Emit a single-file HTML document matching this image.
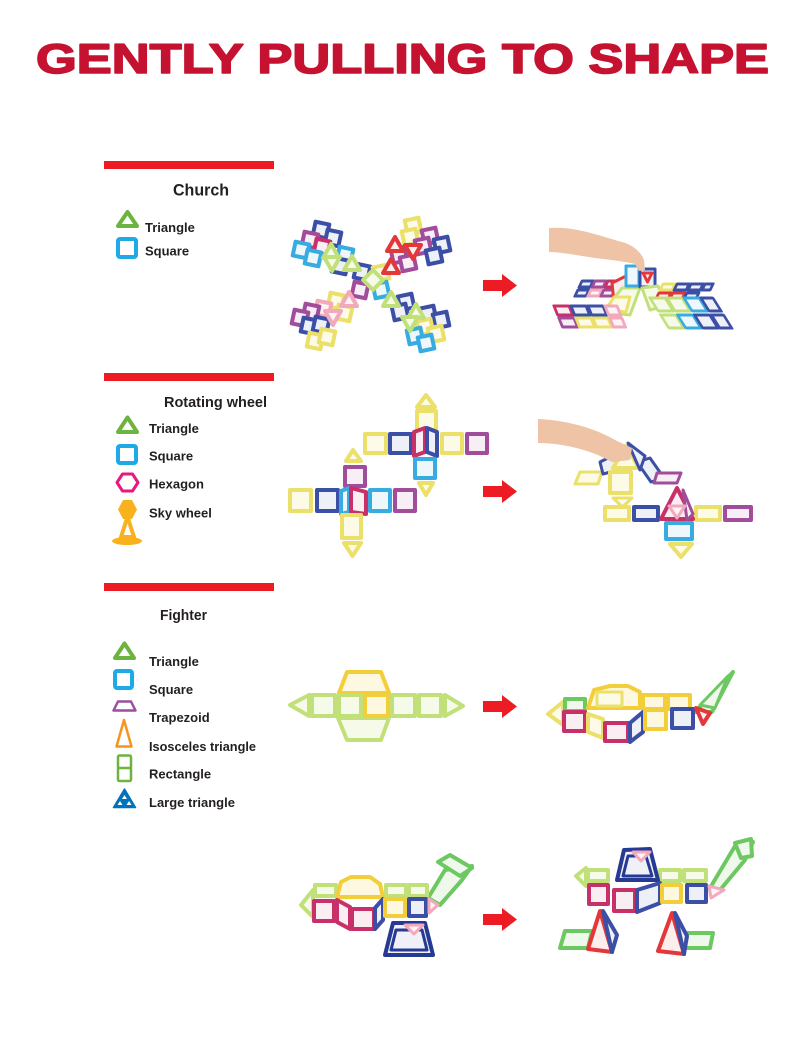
<!DOCTYPE html>
<html><head><meta charset="utf-8"><style>
html,body{margin:0;padding:0;background:#fff;}
svg{display:block;}
.t{stroke-width:4;stroke-linejoin:round}
.w{stroke-width:4;stroke-linejoin:round}
.s{stroke-width:3;stroke-linejoin:round}
.Y{stroke:#ebe06a;fill:#fdfbe8}
.O{stroke:#f2cf3a;fill:#fef8e0}
.B{stroke:#3c4fa6;fill:#eef0f8}
.D{stroke:#263a94;fill:#f0f1f8}
.P{stroke:#a24c9c;fill:#f7eef6}
.M{stroke:#c8306a;fill:#faeef2}
.L{stroke:#38ace0;fill:#eef8fc}
.G{stroke:#c2e07a;fill:#f6fbe9}
.N{stroke:#6dc862;fill:#eef9ec}
.R{stroke:#e2383a;fill:#fdeeee}
.K{stroke:#f2a9bb;fill:#fef3f5}
text{font-family:"Liberation Sans",sans-serif;font-weight:bold;fill:#231f20}
</style></head><body>
<svg width="800" height="1064" viewBox="0 0 800 1064" xmlns="http://www.w3.org/2000/svg">
<rect width="800" height="1064" fill="#fff"/>
<!-- Title -->
<text x="36" y="73" font-size="42" textLength="733" lengthAdjust="spacingAndGlyphs" style="fill:#c41230;stroke:#c41230;stroke-width:1.6;stroke-linejoin:round">GENTLY PULLING TO SHAPE</text>

<!-- Red bars -->
<rect x="104" y="161" width="170" height="8" fill="#ed1c24"/>
<rect x="104" y="373" width="170" height="8" fill="#ed1c24"/>
<rect x="104" y="583" width="170" height="8" fill="#ed1c24"/>

<!-- Section 1 legend -->
<text x="173" y="195.5" font-size="16.5" textLength="56" lengthAdjust="spacingAndGlyphs">Church</text>
<polygon points="127.5,212 118,226 137,226" fill="#fff" stroke="#6db33f" stroke-width="4" stroke-linejoin="round"/>
<rect x="118" y="239" width="18" height="18" rx="2" fill="#fff" stroke="#1eaae7" stroke-width="4"/>
<text x="145" y="232" font-size="13">Triangle</text>
<text x="145" y="255.5" font-size="13">Square</text>

<!-- Section 2 legend -->
<text x="164" y="407" font-size="14.5" textLength="103" lengthAdjust="spacingAndGlyphs">Rotating wheel</text>
<polygon points="127.5,417.5 118,432 137,432" fill="#fff" stroke="#6db33f" stroke-width="4" stroke-linejoin="round"/>
<rect x="118" y="446" width="18" height="17" rx="2" fill="#fff" stroke="#1eaae7" stroke-width="4"/>
<polygon points="122.5,474 132.5,474 138,482.5 132.5,491 122.5,491 117,482.5" fill="#fff" stroke="#e6197f" stroke-width="3" stroke-linejoin="round"/>
<polygon points="123,500 132,500 137,509.5 132,519 123,519 118,509.5" fill="#f9b21b"/>
<polygon points="127.5,517 121,537 134,537" fill="#fff" stroke="#f9b21b" stroke-width="4" stroke-linejoin="round"/>
<ellipse cx="127" cy="541" rx="15" ry="4" fill="#f9b21b"/>
<text x="149" y="433" font-size="13">Triangle</text>
<text x="149" y="460.5" font-size="13">Square</text>
<text x="149" y="488.5" font-size="13">Hexagon</text>
<text x="149" y="517.5" font-size="13">Sky wheel</text>

<!-- Section 3 legend -->
<text x="160" y="620" font-size="15" textLength="47" lengthAdjust="spacingAndGlyphs">Fighter</text>
<polygon points="124.5,643.5 115,658 134,658" fill="#fff" stroke="#6db33f" stroke-width="4" stroke-linejoin="round"/>
<rect x="115" y="671" width="17" height="17" rx="2" fill="#fff" stroke="#1eaae7" stroke-width="4"/>
<polygon points="118,701.5 131,701.5 135.5,710.5 113.5,710.5" fill="#fff" stroke="#9b4f9e" stroke-width="2.5" stroke-linejoin="round"/>
<polygon points="124,720 116.5,746.5 131.5,746.5" fill="#fff" stroke="#f7941d" stroke-width="2.5" stroke-linejoin="round"/>
<rect x="118" y="755.5" width="13" height="25.5" rx="1.5" fill="#fff" stroke="#6db33f" stroke-width="2.5"/>
<line x1="118" y1="768" x2="131" y2="768" stroke="#6db33f" stroke-width="2.5"/>
<polygon points="124.5,789 113.5,807.5 135.5,807.5" fill="#0072bc" stroke="#0072bc" stroke-width="1.5" stroke-linejoin="round"/>
<polygon points="124.5,795 122,799 127,799" fill="#fff"/>
<polygon points="120,801 117.5,805 122.5,805" fill="#fff"/>
<polygon points="129,801 126.5,805 131.5,805" fill="#fff"/>
<text x="149" y="666" font-size="13">Triangle</text>
<text x="149" y="694" font-size="13">Square</text>
<text x="149" y="722" font-size="13">Trapezoid</text>
<text x="149" y="751" font-size="13" textLength="107" lengthAdjust="spacingAndGlyphs">Isosceles triangle</text>
<text x="149" y="778.5" font-size="13">Rectangle</text>
<text x="149" y="807" font-size="13">Large triangle</text>

<!-- Arrows -->
<g fill="#ed1c24">
<polygon points="483,280 502,280 502,274 517,285.5 502,297 502,291 483,291"/>
<polygon points="483,486 502,486 502,480 517,491.5 502,503 502,497 483,497"/>
<polygon points="483,701 502,701 502,695 517,706.5 502,718 502,712 483,712"/>
<polygon points="483,914 502,914 502,908 517,919.5 502,931 502,925 483,925"/>
</g>

<!-- Church left (windmill) -->
<g>
<!-- top-left arm -->
<rect class="t B" x="314" y="223" width="14" height="14" transform="rotate(12 321 230)"/>
<rect class="t B" x="326" y="231" width="14" height="14" transform="rotate(12 333 238)"/>
<rect class="t P" x="303" y="233" width="14" height="14" transform="rotate(12 310 240)"/>
<rect class="t M" x="315" y="240" width="14" height="14" transform="rotate(12 322 247)"/>
<rect class="t L" x="294" y="243" width="14" height="14" transform="rotate(12 301 250)"/>
<rect class="t L" x="306" y="251" width="14" height="14" transform="rotate(12 313 258)"/>
<rect class="t L" x="338" y="248" width="14" height="14" transform="rotate(12 345 255)"/>
<rect class="t B" x="333" y="259" width="14" height="14" transform="rotate(12 340 266)"/>
<rect class="t B" x="355" y="265" width="14" height="14" transform="rotate(12 362 272)"/>
<polygon class="t G" points="331,244 323,258 339,258"/>
<polygon class="t G" points="332,271 324,257 340,257"/>
<polygon class="t G" points="352,256 344,270 360,270"/>
<!-- top-right arm -->
<rect class="t Y" x="406" y="219" width="14" height="14" transform="rotate(-12 413 226)"/>
<rect class="t Y" x="403" y="230" width="14" height="14" transform="rotate(-12 410 237)"/>
<rect class="t P" x="423" y="229" width="14" height="14" transform="rotate(-12 430 236)"/>
<rect class="t P" x="416" y="239" width="14" height="14" transform="rotate(-12 423 246)"/>
<rect class="t B" x="435" y="238" width="14" height="14" transform="rotate(-12 442 245)"/>
<rect class="t B" x="427" y="249" width="14" height="14" transform="rotate(-12 434 256)"/>
<rect class="t P" x="392" y="248" width="14" height="14" transform="rotate(-12 399 255)"/>
<rect class="t P" x="401" y="256" width="14" height="14" transform="rotate(-12 408 263)"/>
<rect class="t Y" x="374" y="266" width="14" height="14" transform="rotate(-12 381 273)"/>
<polygon class="t R" points="395,237 387,251 403,251"/>
<polygon class="t R" points="413,259 405,245 421,245"/>
<polygon class="t R" points="391,259 383,273 399,273"/>
<!-- bottom-left arm -->
<rect class="t P" x="353" y="283" width="14" height="14" transform="rotate(12 360 290)"/>
<rect class="t Y" x="329" y="294" width="14" height="14" transform="rotate(12 336 301)"/>
<rect class="t K" x="316" y="302" width="14" height="14" transform="rotate(12 323 309)"/>
<rect class="t P" x="304" y="305" width="14" height="14" transform="rotate(12 311 312)"/>
<rect class="t P" x="293" y="311" width="14" height="14" transform="rotate(12 300 318)"/>
<rect class="t Y" x="337" y="306" width="14" height="14" transform="rotate(12 344 313)"/>
<rect class="t B" x="302" y="319" width="14" height="14" transform="rotate(12 309 326)"/>
<rect class="t B" x="314" y="318" width="14" height="14" transform="rotate(12 321 325)"/>
<rect class="t Y" x="308" y="334" width="14" height="14" transform="rotate(12 315 341)"/>
<rect class="t Y" x="320" y="330" width="14" height="14" transform="rotate(12 327 337)"/>
<polygon class="t K" points="349,292 341,306 357,306"/>
<polygon class="t K" points="333,325 325,311 341,311"/>
<!-- bottom-right arm -->
<rect class="t L" x="374" y="283" width="14" height="14" transform="rotate(-12 381 290)"/>
<rect class="t B" x="399" y="295" width="14" height="14" transform="rotate(-12 406 302)"/>
<rect class="t B" x="393" y="305" width="14" height="14" transform="rotate(-12 400 312)"/>
<rect class="t B" x="421" y="307" width="14" height="14" transform="rotate(-12 428 314)"/>
<rect class="t B" x="434" y="313" width="14" height="14" transform="rotate(-12 441 320)"/>
<rect class="t Y" x="418" y="320" width="14" height="14" transform="rotate(-12 425 327)"/>
<rect class="t Y" x="429" y="327" width="14" height="14" transform="rotate(-12 436 334)"/>
<rect class="t L" x="408" y="329" width="14" height="14" transform="rotate(-12 415 336)"/>
<rect class="t L" x="419" y="336" width="14" height="14" transform="rotate(-12 426 343)"/>
<polygon class="t G" points="391,292 383,306 399,306"/>
<polygon class="t G" points="416,304 408,318 424,318"/>
<polygon class="t G" points="410,331 402,317 418,317"/>
<!-- center -->
<rect class="t G" x="366" y="273" width="14" height="14" transform="rotate(45 373 280)"/>
</g>

<!-- Church right (hand photo) -->
<g>
<g transform="translate(582,281) skewX(-25)">
<rect class="s B" x="0" y="0" width="11" height="6"/><rect class="s P" x="13" y="0" width="11" height="6"/><rect class="s M" x="26" y="0" width="11" height="6"/><rect class="s B" x="39" y="0" width="10" height="6"/>
<rect class="s B" x="0" y="9" width="11" height="6"/><rect class="s K" x="13" y="9" width="11" height="6"/><rect class="s P" x="26" y="9" width="11" height="6"/><rect class="s R" x="39" y="9" width="10" height="6"/>
</g>
<polygon class="s R" points="612,283 628,275 630,300 614,302"/>
<polygon class="s G" points="603,312 622,288 640,288 630,315"/>
<polygon class="s Y" points="606,310 614,297 630,297 626,312"/>
<g transform="translate(554,306) skewX(22)">
<rect class="s M" x="0" y="0" width="15" height="9"/><rect class="s B" x="17" y="0" width="15" height="9"/><rect class="s B" x="34" y="0" width="15" height="9"/><rect class="s K" x="51" y="0" width="12" height="9"/>
<rect class="s P" x="0" y="12" width="15" height="9"/><rect class="s Y" x="17" y="12" width="15" height="9"/><rect class="s Y" x="34" y="12" width="15" height="9"/><rect class="s K" x="51" y="12" width="12" height="9"/>
</g>
<rect class="s L" x="626" y="266" width="13" height="20"/>
<rect class="s B" x="640" y="269" width="15" height="18"/>
<polygon class="s R" points="643,273 652,273 647.5,282"/>
<polygon class="s G" points="642,288 658,286 668,305 650,310"/>
<g transform="translate(663,284) skewX(-25)">
<rect class="s Y" x="0" y="0" width="12" height="6"/><rect class="s B" x="14" y="0" width="12" height="6"/><rect class="s B" x="28" y="0" width="12" height="6"/><rect class="s B" x="42" y="0" width="8" height="6"/>
<rect class="s R" x="0" y="9" width="12" height="6"/><rect class="s R" x="14" y="9" width="12" height="6"/><rect class="s B" x="28" y="9" width="12" height="6"/>
</g>
<g transform="translate(650,298) skewX(32)">
<rect class="s G" x="0" y="0" width="15" height="13"/><rect class="s G" x="17" y="0" width="15" height="13"/><rect class="s L" x="34" y="0" width="15" height="13"/><rect class="s B" x="51" y="0" width="12" height="13"/>
<rect class="s G" x="0" y="17" width="15" height="13"/><rect class="s L" x="17" y="17" width="15" height="13"/><rect class="s B" x="34" y="17" width="15" height="13"/><rect class="s B" x="51" y="17" width="12" height="13"/>
</g>
<path d="M549,228 C575,226 600,236 622,242 C633,245 641,252 644,260 L645,270 L639,271 L635,264 C628,262 612,260 595,258 C575,255 560,252 549,252 Z" fill="#eec3a6"/>
</g>

<!-- Rotating wheel left -->
<g>
<polygon class="w Y" points="426,395 417,407 435,407"/>
<rect class="w Y" x="417" y="411" width="19" height="19"/>
<rect class="w Y" x="365" y="434" width="21" height="19"/>
<rect class="w B" x="390" y="434" width="21" height="19"/>
<polygon class="w M" points="414,432 425,428 425,452 414,456"/>
<polygon class="w B" points="427,428 437,432 437,456 427,452"/>
<rect class="w Y" x="442" y="434" width="20" height="19"/>
<rect class="w P" x="467" y="434" width="20" height="19"/>
<rect class="w L" x="415" y="459" width="20" height="19"/>
<polygon class="w Y" points="419,483 433,483 426,495"/>
<polygon class="w Y" points="353,450 346,461 361,461"/>
<rect class="w P" x="345" y="467" width="20" height="19"/>
<rect class="w Y" x="290" y="490" width="21" height="21"/>
<rect class="w B" x="317" y="490" width="21" height="21"/>
<polygon class="w L" points="341,491 349,488 349,512 341,514"/>
<polygon class="w M" points="351,488 366,492 366,514 351,512"/>
<rect class="w L" x="370" y="490" width="20" height="21"/>
<rect class="w P" x="395" y="490" width="20" height="21"/>
<rect class="w Y" x="342" y="515" width="19" height="23"/>
<polygon class="w Y" points="344,543 361,543 352.5,556"/>
</g>

<!-- Rotating wheel right (hand) -->
<g>
<polygon class="s Y" points="580,472 602,472 598,484 575,484"/>
<polygon class="s B" points="600,462 614,455 618,470 603,474"/>
<rect class="w Y" x="610" y="472" width="21" height="21"/>
<polygon class="s Y" points="613,498 632,498 622.5,507"/>
<polygon class="s B" points="637,462 650,458 664,478 651,482"/>
<polygon class="w Y" points="626,446 613,468 639,468"/>
<polygon class="s B" points="628,443 645,456 640,470"/>
<polygon class="s P" points="657,473 681,473 677,483 654,483"/>
<rect class="w Y" x="605" y="507" width="24" height="13"/>
<rect class="w B" x="634" y="507" width="24" height="13"/>
<rect class="w Y" x="696" y="507" width="24" height="13"/>
<rect class="w P" x="725" y="507" width="26" height="13"/>
<polygon class="w M" points="677,488 661,519 693,519"/>
<polygon class="s P" points="683,490 693,514 687,520"/>
<polygon class="s K" points="669,506 685,506 677,518"/>
<rect class="w L" x="666" y="523" width="26" height="16"/>
<polygon class="w Y" points="670,544 692,544 681,557"/>
<path d="M538,419 C565,420 595,428 615,440 L632,448 L630,460 L612,462 L598,455 C580,448 560,443 538,443 Z" fill="#eec3a6"/>
</g>

<!-- Fighter a left -->
<g>
<polygon class="w G" points="290,705 309,695 309,716"/>
<polygon class="w O" points="339,693 347,672 381,672 389,693"/>
<polygon class="w G" points="338,718 389,718 381,740 347,740"/>
<rect class="w G" x="312" y="695" width="23" height="21"/>
<rect class="w G" x="339" y="695" width="22" height="21"/>
<rect class="w O" x="365" y="695" width="23" height="21"/>
<rect class="w G" x="392" y="695" width="23" height="21"/>
<rect class="w G" x="419" y="695" width="22" height="21"/>
<polygon class="w G" points="445,695 463,706 445,716"/>
</g>

<!-- Fighter a right -->
<g>
<polygon class="w N" points="695,712 733,672 712,712"/>
<polygon class="s N" points="700,705 728,676 715,708"/>
<polygon class="w Y" points="548,714 563,702 563,725"/>
<rect class="w N" x="565" y="699" width="20" height="12"/>
<polygon class="w O" points="588,708 594,690 610,686 628,686 640,692 640,708"/>
<rect class="s Y" x="597" y="692" width="25" height="14"/>
<rect class="w O" x="643" y="695" width="22" height="14"/>
<rect class="w O" x="668" y="695" width="22" height="14"/>
<rect class="w M" x="564" y="712" width="21" height="19"/>
<polygon class="w Y" points="588,714 603,719 603,738 588,732"/>
<rect class="w M" x="605" y="723" width="23" height="18"/>
<polygon class="w B" points="630,723 643,712 643,732 630,742"/>
<rect class="w O" x="645" y="710" width="21" height="19"/>
<rect class="w B" x="672" y="709" width="21" height="19"/>
<polygon class="w R" points="696,708 710,713 703,724"/>
</g>

<!-- Fighter b left -->
<g>
<polygon class="w N" points="428,898 445,870 472,866 462,880 440,905"/>
<polygon class="w N" points="438,862 450,855 472,868 460,876"/>
<polygon class="w G" points="301,905 313,890 313,917"/>
<rect class="w G" x="315" y="885" width="21" height="11"/>
<rect class="w G" x="386" y="885" width="20" height="11"/>
<rect class="w G" x="409" y="885" width="18" height="11"/>
<polygon class="w O" points="337,897 341,882 351,877 370,877 380,884 383,897"/>
<rect class="w M" x="314" y="901" width="20" height="20"/>
<polygon class="w M" points="337,900 350,907 350,929 337,922"/>
<rect class="w M" x="352" y="909" width="22" height="20"/>
<polygon class="w B" points="375,908 383,899 383,920 375,929"/>
<rect class="w O" x="385" y="899" width="20" height="17"/>
<rect class="w B" x="409" y="899" width="17" height="17"/>
<polygon class="s K" points="429,899 438,905 429,913"/>
<polygon class="w D" points="393,923 425,923 433,955 385,955"/>
<polygon class="s D" points="396,930 422,930 427,950 391,950"/>
<polygon class="s K" points="405,925 423,925 414,934"/>
</g>

<!-- Fighter b right -->
<g>
<polygon class="w N" points="710,888 735,846 753,842 745,860 720,890"/>
<polygon class="w N" points="735,843 751,839 752,856 741,858"/>
<polygon class="w G" points="576,876 586,868 586,886"/>
<rect class="w G" x="588" y="870" width="20" height="11"/>
<rect class="w G" x="660" y="870" width="20" height="11"/>
<rect class="w G" x="684" y="870" width="22" height="11"/>
<polygon class="w D" points="617,880 624,850 650,849 658,880"/>
<polygon class="s D" points="623,876 628,856 646,856 652,876"/>
<polygon class="s K" points="633,852 650,852 641,861"/>
<rect class="w M" x="589" y="885" width="19" height="19"/>
<rect class="w M" x="614" y="890" width="21" height="21"/>
<polygon class="w B" points="637,890 660,883 660,903 637,912"/>
<rect class="w O" x="662" y="885" width="19" height="17"/>
<rect class="w B" x="687" y="885" width="19" height="17"/>
<polygon class="s K" points="709,886 724,890 711,898"/>
<polygon class="w N" points="565,931 592,931 588,948 560,948"/>
<polygon class="w R" points="600,911 588,949 612,952"/>
<polygon class="w B" points="603,911 617,935 612,952"/>
<polygon class="w N" points="686,933 713,933 710,948 684,948"/>
<polygon class="w R" points="672,913 658,951 684,954"/>
<polygon class="w B" points="675,913 687,936 684,954"/>
</g>
</svg>
</body></html>
